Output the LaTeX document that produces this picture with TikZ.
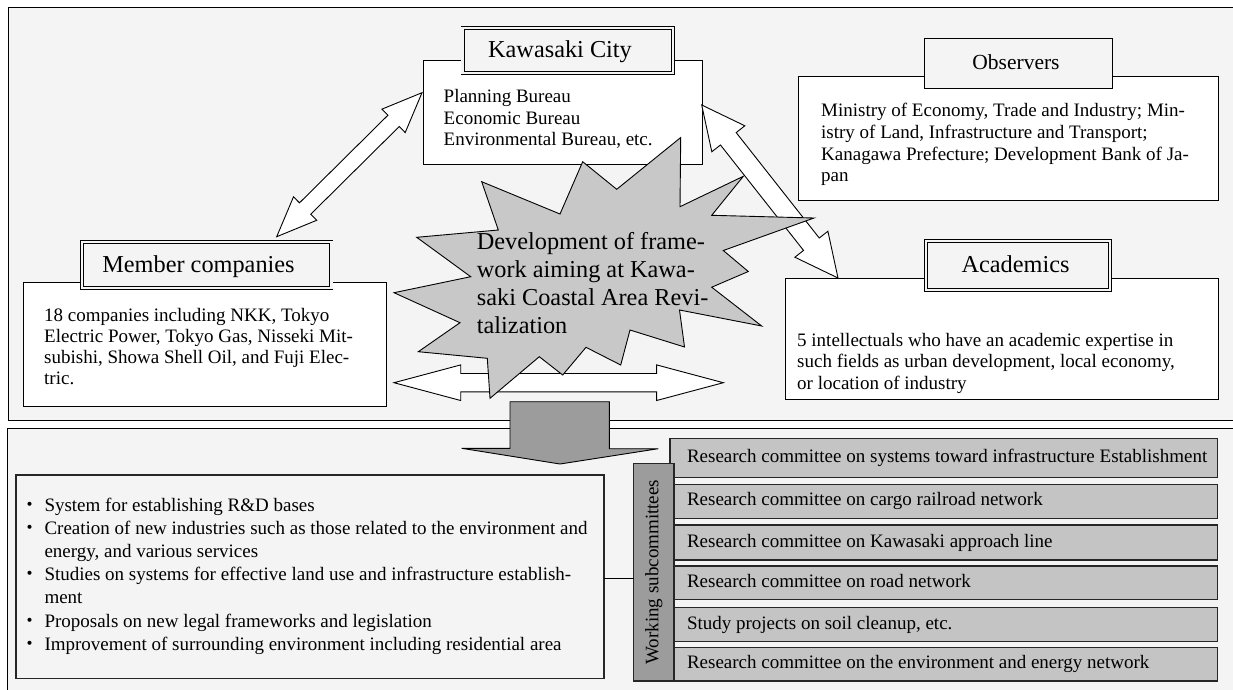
\documentclass[tikz,border=0pt]{standalone}
\usepackage{fontspec}
\setmainfont{Liberation Serif}
\newfontfamily\cjkfont{Noto Sans CJK JP}
\usetikzlibrary{calc}
\definecolor{panelbg}{HTML}{F4F4F4}
\definecolor{burstfill}{HTML}{C8C8C8}
\definecolor{commfill}{HTML}{C4C4C4}
\definecolor{darkfill}{HTML}{9C9C9C}
\tikzset{
  panel/.style={draw=black, fill=panelbg, line width=1pt},
  bodybox/.style={draw=black, fill=white, line width=0.9pt, inner sep=0pt, outer sep=0pt},
  titlebox/.style={draw=black, fill=panelbg, line width=0.9pt, inner sep=0pt, outer sep=0pt},
  dbltitle/.style={titlebox, line width=0.8pt, double=panelbg, double distance=2.4pt},
  bulbox/.style={draw=black!85, fill=panelbg, line width=1.1pt, inner sep=0pt, outer sep=0pt},
  commbox/.style={draw=black!85, fill=commfill, line width=1.2pt, inner sep=0pt, outer sep=0pt},
  labbox/.style={draw=black!85, fill=darkfill, line width=1.2pt, inner sep=0pt, outer sep=0pt},
  arrowshape/.style={draw=black, fill=white, line width=0.9pt, line join=miter},
  burstshape/.style={draw=black, fill=burstfill, line width=0.9pt, line join=miter},
  downshape/.style={draw=black, fill=darkfill, line width=0.9pt, line join=miter},
  bodytxt/.style={font=\fontsize{19}{21.3}\selectfont, anchor=base west, inner sep=0pt},
  ttltxt/.style={font=\fontsize{24.3}{28}\selectfont, anchor=base, inner sep=0pt},
  obstxt/.style={font=\fontsize{21.5}{25}\selectfont, anchor=base, inner sep=0pt},
  bursttxt/.style={font=\fontsize{24.3}{28}\selectfont, anchor=base west, inner sep=0pt},
  dottxt/.style={font=\cjkfont\fontsize{19}{21.3}\selectfont, anchor=base, inner sep=0pt},
}
\newcommand\rbox[6]{\node[#1, anchor=north west, minimum width={#5-#3}, minimum height={#6-#4}] (#2) at (#3,#4) {};}
\newcommand\dblarrow[5]{%
  \coordinate (#1h) at ($(#1)!#3!(#2)$);
  \coordinate (#2h) at ($(#2)!#3!(#1)$);
  \filldraw[arrowshape] (#1)
    -- ($(#1h)!#5!90:(#2)$) -- ($(#1h)!#4!90:(#2)$)
    -- ($(#2h)!#4!-90:(#1)$) -- ($(#2h)!#5!-90:(#1)$)
    -- (#2)
    -- ($(#2h)!#5!90:(#1)$) -- ($(#2h)!#4!90:(#1)$)
    -- ($(#1h)!#4!-90:(#2)$) -- ($(#1h)!#5!-90:(#2)$)
    -- cycle;}
\begin{document}
\begin{tikzpicture}[x=1pt,y=-1pt]
\useasboundingbox (0,0) rectangle (1233,689);
\clip (0,0) rectangle (1233,689);
\fill[white] (0,0) rectangle (1233,689);
% panels
\draw[panel] (8.5,7) rectangle (1245,420.5);
\draw[panel] (7.5,428.5) rectangle (1245,700);

% body boxes
\rbox{bodybox}{kcbody}{423}{60}{702}{164}
\rbox{bodybox}{obbody}{798}{76.7}{1218}{200.7}
\rbox{bodybox}{mcbody}{23.3}{282.3}{386.7}{406.7}
\rbox{bodybox}{acbody}{785}{278}{1218}{399}

% title boxes
\rbox{dbltitle}{kctitle}{462.5}{27.7}{672.7}{73}
\rbox{titlebox}{obtitle}{924}{38}{1112}{88}
\rbox{dbltitle}{mctitle}{82}{242}{331.3}{288}
\rbox{dbltitle}{actitle}{926}{241}{1110}{289.7}

\node[ttltxt] (kcname) at (560,57.3) {Kawasaki City};
\node[obstxt] (obname) at (1016,69) {Observers};
\node[ttltxt] (mcname) at (198.5,272) {Member companies};
\node[ttltxt] (acname) at (1015.5,272.8) {Academics};

% body texts
\foreach \t [count=\i] in {Planning Bureau, Economic Bureau, {Environmental Bureau, etc.}}
  \node[bodytxt] (kct\i) at (443.5,{102.7+(\i-1)*21.3}) {\t};
\foreach \t [count=\i] in {{Ministry of Economy, Trade and Industry; Min-}, {istry of Land, Infrastructure and Transport;}, {Kanagawa Prefecture; Development Bank of Ja-}, pan}
  \node[bodytxt] (obt\i) at (821,{116.7+(\i-1)*21.7}) {\t};
\foreach \t [count=\i] in {{18 companies including NKK, Tokyo}, {Electric Power, Tokyo Gas, Nisseki Mit-}, {subishi, Showa Shell Oil, and Fuji Elec-}, tric.}
  \node[bodytxt] (mct\i) at (44,{321+(\i-1)*21.3}) {\t};
\foreach \t [count=\i] in {5 intellectuals who have an academic expertise in, {such fields as urban development, local economy,}, or location of industry}
  \node[bodytxt] (act\i) at (797,{346+(\i-1)*21.5}) {\t};

% connectors (block arrows)
\coordinate (a1s) at (422,92.7);
\coordinate (a1e) at (276.7,236.7);
\dblarrow{a1s}{a1e}{40pt}{8pt}{16.5pt}
\coordinate (a2s) at (701.7,105);
\coordinate (a2e) at (838,278);
\dblarrow{a2s}{a2e}{43pt}{10pt}{21pt}
\coordinate (a3s) at (394,382.7);
\coordinate (a3e) at (723.3,382.7);
\dblarrow{a3s}{a3e}{66.7pt}{9.2pt}{17.8pt}

% starburst
\filldraw[burstshape] (582.7,161.7) -- (616.7,189.3) -- (680.7,137.5) -- (680,206.7)
  -- (743.3,176.3) -- (711.7,215.3) -- (814,218) -- (723.3,250.5) -- (748.3,271.5)
  -- (711.7,287.2) -- (761.7,326) -- (679.5,310) -- (684.5,347) -- (630,330)
  -- (620.7,365) -- (586,347.3) -- (562.7,375) -- (539.3,356.7) -- (490,398.3)
  -- (487.3,358.3) -- (418.3,351.7) -- (460,322.7) -- (394,292.7) -- (470.7,276.7)
  -- (416.7,237.3) -- (498.3,230) -- (481.7,181.7) -- (560,214) -- cycle;
\foreach \t [count=\i] in {Development of frame-, work aiming at Kawa-, saki Coastal Area Revi-, talization}
  \node[bursttxt] (bt\i) at (476.7,{249.7+(\i-1)*28}) {\t};

% big down arrow
\filldraw[downshape] (510,401.7) -- (609.3,401.7) -- (609.3,448.7) -- (658.3,448.7)
  -- (560,464) -- (461.7,448.3) -- (510,448.3) -- cycle;

% bullets box
\rbox{bulbox}{bul}{16}{475}{604}{678.3}
\foreach \k in {0,1,3,5,6}
  \node[dottxt] (dot\k) at (30,{511+\k*23.2}) {・};
\foreach \t [count=\i] in {System for establishing R\&D bases,
  Creation of new industries such as those related to the environment and,
  {energy, and various services},
  Studies on systems for effective land use and infrastructure establish-,
  ment,
  Proposals on new legal frameworks and legislation,
  Improvement of surrounding environment including residential area}
  \node[bodytxt] (bl\i) at (44.3,{511+(\i-1)*23.2}) {\t};

% committees
\rbox{commbox}{c1}{670}{438.3}{1217.7}{477.3}
\rbox{commbox}{c2}{670}{484.3}{1217.7}{518.3}
\rbox{commbox}{c3}{670}{525}{1217.7}{560}
\rbox{commbox}{c4}{670}{566}{1217.7}{599.3}
\rbox{commbox}{c5}{670}{607.7}{1217.7}{641.7}
\rbox{commbox}{c6}{670}{647.3}{1217.7}{681}
\node[bodytxt] (ct1) at (686.8,{457.8+4.5}) {Research committee on systems toward infrastructure Establishment};
\node[bodytxt] (ct2) at (686.8,{501.3+4.5}) {Research committee on cargo railroad network};
\node[bodytxt] (ct3) at (686.8,{542.5+4.5}) {Research committee on Kawasaki approach line};
\node[bodytxt] (ct4) at (686.8,{582.7+4.5}) {Research committee on road network};
\node[bodytxt] (ct5) at (686.8,{624.7+4.5}) {Study projects on soil cleanup, etc.};
\node[bodytxt] (ct6) at (686.8,{664.2+4.5}) {Research committee on the environment and energy network};

\rbox{labbox}{wlab}{633.5}{463.3}{674}{681}
\node[font=\fontsize{19}{21.3}\selectfont, rotate=90, inner sep=0pt] (wlabt) at (wlab.center) {Working subcommittees};

\draw[line width=1pt] (bul.east |- 0,578.3) -- (wlab.west |- 0,578.3);
\end{tikzpicture}
\end{document}
